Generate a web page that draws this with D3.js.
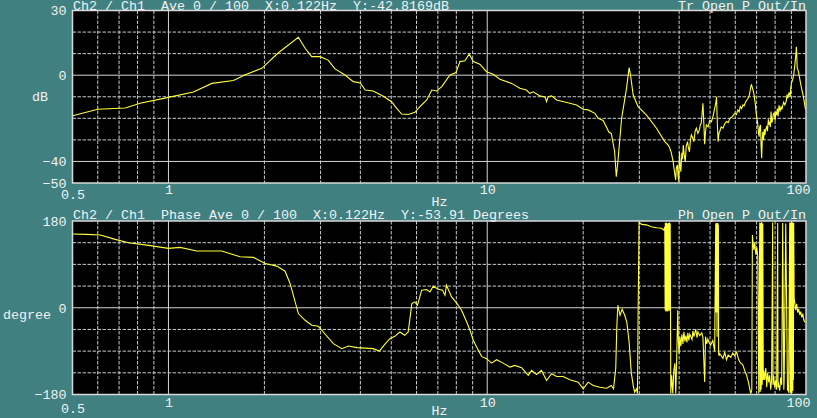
<!DOCTYPE html>
<html><head><meta charset="utf-8">
<script src="https://cdn.jsdelivr.net/npm/d3@7"></script>
<style>html,body{margin:0;padding:0;background:#408080;overflow:hidden}</style>
</head><body>
<svg id="chart" width="817" height="418"></svg>
<script>
// ---------- data ----------
const freqTicks = [0.5, 1, 10, 100];
const freqGrid = [0.6,0.7,0.8,0.9,1,2,3,4,5,6,7,8,9,10,20,30,40,50,60,70,80,90];
const freqSolid = [1, 10];
const magTicks = [30, 0, -40, -50];
const magGrid = [20, 10, 0, -10, -20, -30, -40];
const magSolid = [0, -40];
const phaseTicks = [180, 0, -180];
const phaseGrid = [135, 90, 45, 0, -45, -90, -135];
const phaseSolid = [0];

const magFreq = [0.5,0.6,0.732,0.815,1.0,1.198,1.368,1.599,1.74,1.963,2.212,2.556,2.683,2.815,2.99,3.17,3.33,3.58,3.8,4.0,4.14,4.39,4.72,5.01,5.2,5.39,5.65,5.93,6.15,6.46,6.7,6.94,7.2,7.64,7.98,8.21,8.51,8.78,9.04,9.48,9.95,10.44,10.96,11.93,12.66,13.27,13.61,13.94,14.63,15.2,15.35,15.53,15.92,16.51,18.17,19.06,20.0,20.73,21.76,22.3,23.1,24.1,24.5,25.1,25.4,25.7,26.4,27.35,27.87,28.15,28.7,29.74,31.6,33.96,
  36.06,37.0,37.4,37.8,38.3,38.6,39.0,39.2,39.5,39.7,39.9,40.1,40.3,40.5,40.8,41.0,41.2,41.5,41.8,42.1,42.5,42.8,43.1,43.4,43.7,44.1,44.5,44.9,45.3,45.8,46.3,46.6,46.9,47.2,47.5,47.8,48.1,48.4,48.7,49.3,49.9,50.5,51.1,51.7,52.1,52.4,52.7,53.0,53.3,53.6,54.2,54.9,55.6,56.3,57.0,57.7,58.5,59.2,59.8,60.5,61.1,61.7,62.2,62.8,63.4,64.0,64.5,65.2,65.8,66.5,67.0,67.4,67.8,68.6,69.3,69.9,70.5,71.0,71.3,71.6,72.0,72.3,72.6,72.9,73.2,73.6,74.0,74.3,74.8,75.3,75.7,76.2,76.6,76.9,77.3,77.7,78.1,78.5,79.0,79.5,80.0,80.4,80.8,81.3,81.7,82.3,82.9,83.5,84.0,84.4,85.1,85.8,86.7,87.2,87.6,88.5,89.2,89.6,90.0,90.8,91.5,92.3,93.0,93.3,93.6,93.9,94.6,95.5,96.5,97.9,98.7,99.5,100];
const magDb = [-18.8,-15.8,-15.2,-13.0,-10.3,-7.8,-3.8,-2.5,0.2,3.2,10.4,17.6,12.5,8.6,8.6,7.0,2.9,0.1,-3.0,-3.6,-6.9,-7.3,-9.8,-12.3,-15.4,-18.0,-18.2,-17.2,-14.6,-11.5,-6.9,-7.3,-5.3,0.1,1.2,6.3,6.7,9.8,6.3,5.1,1.6,0.4,-1.9,-3.8,-6.1,-6.9,-8.4,-7.7,-9.6,-10.2,-12.3,-10.0,-9.6,-11.5,-13.0,-13.8,-15.8,-16.1,-17.7,-20.0,-21.0,-26.5,-27,-35.5,-47.1,-40.1,-20,-6.1,3.5,0.1,-9.2,-14.6,-18.5,-24.6,
  -30.8,-32.5,-33.9,-36,-40.1,-44,-48.6,-43,-41.6,-47,-49.4,-35.5,-42,-44.8,-36,-39,-32.4,-37,-40.1,-33,-30.8,-34,-35.5,-30,-27.7,-29,-30.8,-26,-24.6,-27,-25.4,-23,-22.3,-18,-13.0,-22,-32,-26,-23.1,-24,-21,-21.6,-19,-15.4,-13,-10.0,-22,-30.8,-27,-26.2,-24,-24.6,-22.5,-21.5,-22,-20,-19.5,-18.5,-17.7,-18.3,-16.1,-17,-14.5,-15.5,-13.8,-14.2,-12.8,-11.5,-10.7,-9,-6,-4.2,-5.5,-8.4,-13,-18.5,-22,-27,-28.5,-24,-23.1,-33,-38.5,-30,-26.2,-30,-25,-27.7,-25,-23.9,-26,-20.5,-23,-21.6,-24,-16.9,-22,-20.8,-18,-17.5,-21,-17,-18.5,-15.5,-19,-14,-16.9,-14.5,-16,-14.6,-12.5,-13.8,-12,-9,-10.7,-8,-10,-6,-3.8,-2,0.1,5,10,13.2,8,3.2,2,-1.4,-5,-9.2,-12,-15.4,-16];

const phaseFreq = [0.5,0.555,0.611,0.681,0.749,0.856,1.0,1.088,1.227,1.47,1.678,1.847,2.01,2.187,2.322,2.407,2.556,2.683,2.815,2.953,3.06,3.29,3.5,3.67,3.9,4.39,4.59,4.77,4.95,5.13,5.32,5.51,5.65,5.8,5.93,6.04,6.23,6.46,6.61,6.77,7.02,7.24,7.37,7.45,7.73,8.01,8.31,8.62,8.83,9.04,9.26,9.6,9.95,10.32,10.7,11.22,11.78,12.2,12.82,13.45,13.78,14.28,14.8,15.35,15.92,16.51,17.3,18.17,19.29,20.0,20.73,21.5,22.55,23.7,24.5,24.9,25.1,25.3,25.5,25.6,25.7,26.1,26.5,27.0,27.4,27.87,28.3,28.7,29.0,29.4,29.6,29.74,29.95,30.5,31.6,32.7,33.96,35.2,35.8,36.06,
  36.15,36.2,36.25,36.3,36.35,36.4,36.45,36.5,36.55,36.6,36.7,36.75,36.85,36.9,36.95,37.0,37.1,37.15,37.25,37.3,37.35,37.4,37.45,37.5,37.65,37.9,38.2,38.5,38.8,39.04,39.3,39.6,39.8,40.0,40.2,40.5,40.8,41.1,41.4,41.7,42.0,42.3,42.6,42.9,43.2,43.9,44.2,44.5,45.1,45.5,45.8,46.4,47.1,47.5,48.1,48.4,48.8,49.2,49.5,50.2,51.0,51.7,52.1,52.2,52.3,52.4,52.5,52.6,52.7,52.8,52.9,53.0,53.1,53.2,53.4,53.6,54.9,55.6,56.3,57.0,58.1,58.9,59.8,60.6,61.5,62.4,63.3,64.2,65.1,66.0,67.1,67.6,67.9,68.1,68.6,69.1,69.6,70.1,70.6,71.1,71.6,71.8,72.1,72.35,72.6,72.9,73.2,73.45,73.7,74.2,74.8,75.3,75.8,76.4,76.9,77.5,78.0,78.6,78.8,79.0,79.8,80.4,80.9,81.5,81.7,81.8,82.7,83.3,83.9,84.5,85.2,85.4,86.4,87.5,87.6,88.2,88.9,89.2,89.5,89.7,89.85,90.0,90.2,90.35,90.5,90.65,90.8,90.95,91.1,91.3,91.5,91.8,92.2,92.8,93.5,94.2,94.9,95.6,96.3,97.0,97.7,98.4,99.1,99.8];
const phaseDeg = [152.9,152.3,150.9,141.9,134.8,130,123.2,125.3,117.6,117.6,105.7,104.5,92,86.4,75.9,50.4,-12.1,-26,-36.4,-38.5,-50.3,-74.5,-84.9,-79.5,-82.8,-84.9,-89.9,-75.9,-64.1,-59.3,-50.3,-57.2,-50.3,8.7,12.1,5.2,36.4,37.9,32.9,44.7,38.5,36.4,26,46.8,22.5,10,-5.2,-29.5,-46.8,-67.6,-81.6,-100.9,-105.7,-114.9,-107.8,-114.9,-123.2,-119.6,-124.4,-140.4,-130,-138.4,-130,-150.9,-136.9,-142.5,-142.5,-149.4,-154.4,-168.1,-154.4,-161.3,-164.8,-166.9,-161.3,-168.1,-147,-126,-40,-15.6,5.2,-15.6,-3.1,-15.6,-29.5,-71,-134,-161,-175,-168,-178,-8.7,177,173,172,168,166,165,161,168,
  -5,176,-3,174,-8,177,-4,175,-6,176,-8,174,-5,170,-7,176,-4,175,-3,177,-6,174,-4,175,-178,-140,-178,-130,-115,-178,-105,-5,-70,-95,-60,-80,-55,-75,-50,-70,-58,-72,-52,-68,-55,-66,-48,-60,-45,-62,-50,-58,-52,-62,-154,-60,-75,-65,-70,-78,-68,-90,175,-10,176,-8,175,-60,174,-8,176,-10,172,-95,-100,-95,-105,-92,-108,-98,-103,-94,-100,-92,-108,-115,-118,-130,-140,-155,-178,-170,151,140,120,135,110,125,105,-178,177,-175,176,-170,178,-160,175,-150,-130,-150,-125,-165,-135,-155,-140,-170,-150,177,-160,-140,-165,-150,-170,176,-165,-155,-172,-145,-160,176,-170,-150,175,-172,-160,-176,177,-178,176,-176,177,-175,178,-177,176,-170,177,-172,176,-150,176,20,10,-5,8,-10,-3,-15,-8,-20,-12,-25,-30];

// ---------- drawing ----------
const svg = d3.select("#chart");
const W = 817, H = 418;
svg.append("rect").attr("width", W).attr("height", H).attr("fill", "#408080");
const FONT = "'Liberation Mono','DejaVu Sans Mono',monospace";
const FS = "13.33px";
const TXT = "#f2f2f2";

const x = d3.scaleLog().domain([0.5, 100]).range([72.5, 806]);

function panel(o) {
  const y = d3.scaleLinear().domain(o.yDomain).range([o.bottom, o.top]);
  const g = svg.append("g");
  const clipId = "clip" + o.id;
  svg.append("clipPath").attr("id", clipId).append("rect")
    .attr("x", x.range()[0]).attr("y", o.top)
    .attr("width", x.range()[1] - x.range()[0]).attr("height", o.bottom - o.top);

  g.append("rect").attr("x", x.range()[0]).attr("y", o.top)
    .attr("width", x.range()[1] - x.range()[0]).attr("height", o.bottom - o.top)
    .attr("fill", "#000");

  // grid
  g.selectAll(".vg").data(freqGrid).join("line")
    .attr("x1", d => x(d)).attr("x2", d => x(d))
    .attr("y1", o.top).attr("y2", o.bottom)
    .attr("stroke", d => freqSolid.includes(d) ? "#d4d4d4" : "#c4cccc")
    .attr("stroke-width", 1)
    .attr("stroke-dasharray", d => freqSolid.includes(d) ? null : "3.5,1.5");
  g.selectAll(".hg").data(o.grid).join("line")
    .attr("x1", x.range()[0]).attr("x2", x.range()[1])
    .attr("y1", d => y(d)).attr("y2", d => y(d))
    .attr("stroke", d => o.solid.includes(d) ? "#d4d4d4" : "#c4cccc")
    .attr("stroke-width", 1)
    .attr("stroke-dasharray", d => o.solid.includes(d) ? null : "3.5,1.5");

  // curve
  const data = o.fx.map((f, i) => [f, o.vy[i]]);
  g.append("path").datum(data)
    .attr("clip-path", `url(#${clipId})`)
    .attr("fill", "none").attr("stroke", "#ffff3a").attr("stroke-width", 1.1)
    .attr("d", d3.line().x(d => x(d[0])).y(d => y(d[1])));

  // frame
  g.append("rect").attr("x", x.range()[0]).attr("y", o.top)
    .attr("width", x.range()[1] - x.range()[0]).attr("height", o.bottom - o.top)
    .attr("fill", "none").attr("stroke", "#d8d8d8").attr("stroke-width", 1.5);

  // y axis labels
  const ya = svg.append("g").attr("transform", `translate(${x.range()[0]},0)`)
    .call(d3.axisLeft(y).tickValues(o.ticks).tickSize(0).tickPadding(6));
  ya.select(".domain").remove();
  ya.attr("font-family", FONT).attr("font-size", FS).attr("color", TXT);

  // x axis labels
  const xa = svg.append("g").attr("transform", `translate(0,${o.bottom})`)
    .call(d3.axisBottom(x).tickValues(freqTicks).tickSize(0).tickPadding(2)
      .tickFormat(d => String(d)));
  xa.select(".domain").remove();
  xa.attr("font-family", FONT).attr("font-size", FS).attr("color", TXT);
  xa.selectAll("text").attr("y", d => d === 0.5 ? o.xlabLow : o.xlab)
    .attr("dx", d => d === 100 ? -8 : 0);

  // texts
  const t = (s, xx, yy, anchor) => svg.append("text").text(s)
    .attr("x", xx).attr("y", yy).attr("text-anchor", anchor || "start")
    .attr("font-family", FONT).attr("font-size", FS).attr("fill", TXT)
    .style("white-space", "pre").attr("xml:space", "preserve");
  t(o.header, 73, o.headerY);
  t(o.right, 806, o.headerY, "end");
  t(o.ylabel, o.ylabelX, o.ylabelY);
  t("Hz", 431.5, o.hzY);
}

panel({
  id: "m", top: 10.5, bottom: 183, yDomain: [-50, 30],
  grid: magGrid, solid: magSolid, ticks: magTicks,
  fx: magFreq, vy: magDb,
  header: "Ch2 / Ch1  Ave 0 / 100  X:0.122Hz  Y:-42.8169dB",
  right: "Tr Open P Out/In", headerY: 9.5,
  ylabel: "dB", ylabelX: 32, ylabelY: 101,
  xlab: 2, xlabLow: 7, hzY: 205.5
});

panel({
  id: "p", top: 221, bottom: 394.5, yDomain: [-180, 180],
  grid: phaseGrid, solid: phaseSolid, ticks: phaseTicks,
  fx: phaseFreq, vy: phaseDeg,
  header: "Ch2 / Ch1  Phase Ave 0 / 100  X:0.122Hz  Y:-53.91 Degrees",
  right: "Ph Open P Out/In", headerY: 219,
  ylabel: "degree", ylabelX: 3, ylabelY: 319,
  xlab: 2.7, xlabLow: 8.7, hzY: 415
});
</script>
</body></html>
